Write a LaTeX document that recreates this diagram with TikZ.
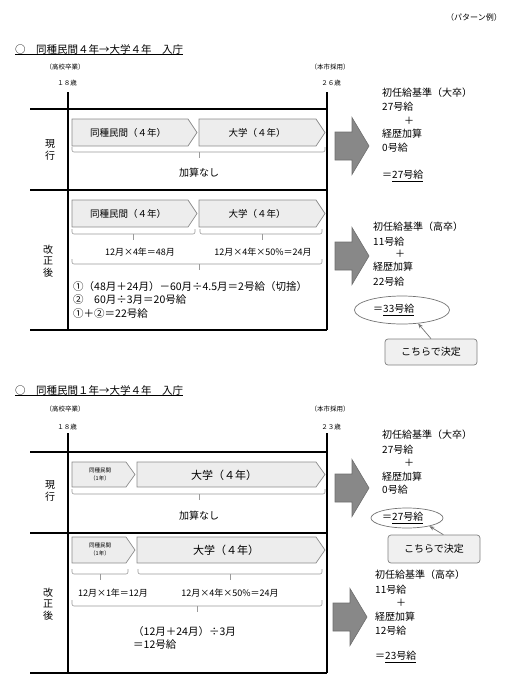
\documentclass[tikz,border=0pt]{standalone}
\usepackage{fontspec}
\setmainfont{Noto Sans CJK JP}
\usetikzlibrary{arrows.meta,shapes.geometric}
\definecolor{chevfill}{HTML}{EDEDED}
\definecolor{chevdraw}{HTML}{8C8C8C}
\definecolor{arrfill}{HTML}{888888}
\definecolor{arrdraw}{HTML}{6E6E6E}
\definecolor{brk}{HTML}{9A9A9A}
% chevron: x left, x tip, y top, y bottom
\newcommand{\chevpath}[4]{\path[chev] (#1,#3) -- ({#2-9},#3) -- (#2,{(#3+#4)/2}) -- ({#2-9},#4) -- (#1,#4) -- cycle;}
% bracket: x1, x2, y top, y bottom, x tick
\newcommand{\bracketpath}[5]{\draw[brkline] (#1,#3) -- (#1,#4) -- (#2,#4) -- (#2,#3); \draw[brkline] (#5,#4) -- (#5,{#4+6});}
% big arrow: x left, y centre
\newcommand{\bigarrowpath}[2]{\path[barrow] (#1,{#2-14}) -- ({#1+17},{#2-14}) -- ({#1+17},{#2-28.5}) -- ({#1+34},#2) -- ({#1+17},{#2+28.5}) -- ({#1+17},{#2+14}) -- (#1,{#2+14}) -- cycle;}
\begin{document}
\begin{tikzpicture}[x=1pt,y=-1pt,
 frame/.style={line width=1.4pt},
 chev/.style={fill=chevfill,draw=chevdraw,line width=0.7pt},
 brkline/.style={draw=brk,line width=0.6pt,rounded corners=2pt},
 barrow/.style={fill=arrfill,draw=arrdraw,line width=0.6pt},
 ct/.style={inner sep=0,font=\fontsize{9.5}{11}\selectfont},
 bigct/.style={inner sep=0,font=\fontsize{11}{13}\selectfont},
 tinyct/.style={inner sep=0,font=\fontsize{5.5}{7.5}\selectfont,align=center},
 lab/.style={inner sep=0,font=\fontsize{6.5}{7.5}\selectfont},
 mid/.style={inner sep=0,font=\fontsize{9}{11}\selectfont},
 ft/.style={anchor=west,inner sep=0,font=\fontsize{10.5}{12}\selectfont},
 rt/.style={anchor=west,inner sep=0,font=\fontsize{10}{12}\selectfont},
 vt/.style={inner sep=0,align=center,font=\fontsize{10}{11.5}\selectfont},
 ttl/.style={anchor=west,inner sep=0,font=\fontsize{10.5}{12}\selectfont},
 uline/.style={line width=0.6pt},
 ell/.style={ellipse,draw=black!55,line width=0.7pt,inner sep=0},
 callbox/.style={draw=black!50,fill=black!6,rounded corners=3pt,line width=0.7pt,minimum width=92pt,inner sep=0,font=\fontsize{10}{12}\selectfont},
 callline/.style={draw=black!55,line width=0.7pt,-{Stealth[length=5pt,width=4pt]}}
]
\useasboundingbox (0,0) rectangle (510,696);

\node[anchor=east,inner sep=0,font=\fontsize{8}{10}\selectfont] (pat) at (502,17) {（パターン例）};

%================ PART 1 ================
\node[ttl] (t1) at (15,49) {○　同種民間４年→大学４年　入庁};
\draw[uline] (t1.south west) -- (t1.south east);
\node[lab] (a1) at (65,67) {（高校卒業）};
\node[lab] (b1) at (330,67) {（本市採用）};
\node[lab] (a1y) at (67,83) {１８歳};
\node[lab] (b1y) at (331,83) {２６歳};

\draw[frame] (68,92) -- (68,330);
\draw[frame] (327,92) -- (327,330);
\draw[frame] (30,109) -- (327,109);
\draw[frame] (30,190) -- (327,190);
\draw[frame] (30,330) -- (327,330);

\node[vt] (g1) at (50,150) {現\\行};
\node[vt] (k1) at (48,261) {改\\正\\後};

% row 1
\chevpath{72}{197}{119}{146}
\chevpath{199}{325}{119}{146}
\node[ct] (c1a) at (128,133) {同種民間（４年）};
\node[ct] (c1b) at (257,133) {大学（４年）};
\bracketpath{72}{325}{147}{152}{199}
\node[ct,font=\fontsize{10}{12}\selectfont] (n1) at (199,173) {加算なし};

% row 2
\chevpath{72}{197}{200}{227}
\chevpath{199}{325}{200}{227}
\node[ct] (c2a) at (128,214) {同種民間（４年）};
\node[ct] (c2b) at (257,214) {大学（４年）};
\bracketpath{72}{195}{229}{234}{133}
\bracketpath{200}{322}{229}{234}{262}
\node[mid] (m1) at (140,252) {12月×4年＝48月};
\node[mid] (m2) at (263,252) {12月×4年×50\%＝24月};
\bracketpath{72}{322}{259}{264}{199}
\node[ft] (f1) at (73,287) {①（48月＋24月）－60月÷4.5月＝2号給（切捨）};
\node[ft] (f2) at (73,300) {②　60月÷3月＝20号給};
\node[ft] (f3) at (73,314) {①＋②＝22号給};

% right side
\bigarrowpath{335}{146}
\node[rt] (r1) at (382,93) {初任給基準（大卒）};
\node[rt] (r2) at (382,107) {27号給};
\node[rt] (r3) at (404,121) {＋};
\node[rt] (r4) at (382,134) {経歴加算};
\node[rt] (r5) at (382,148) {0号給};
\node[rt] (r6) at (382,176) {＝\underline{27号給}};

\bigarrowpath{335}{256}
\node[rt] (s1) at (373,227) {初任給基準（高卒）};
\node[rt] (s2) at (373,242) {11号給};
\node[rt] (s3) at (395,254) {＋};
\node[rt] (s4) at (373,267) {経歴加算};
\node[rt] (s5) at (373,282) {22号給};
\node[rt] (s6) at (373,310) {＝\underline{33号給}};
\node[ell,minimum width=95pt,minimum height=28pt] (e1) at (402,310) {};
\node[callbox,minimum height=26pt] (box1) at (431,352) {こちらで決定};
\draw[callline] (box1.north) -- (e1.-40);

%================ PART 2 ================
\node[ttl] (t2) at (15,390) {○　同種民間１年→大学４年　入庁};
\draw[uline] (t2.south west) -- (t2.south east);
\node[lab] (a2) at (65,409) {（高校卒業）};
\node[lab] (b2) at (330,409) {（本市採用）};
\node[lab] (a2y) at (67,427) {１８歳};
\node[lab] (b2y) at (331,427) {２３歳};

\draw[frame] (68,433) -- (68,673);
\draw[frame] (327,433) -- (327,673);
\draw[frame] (30,452) -- (327,452);
\draw[frame] (30,533) -- (327,533);
\draw[frame] (30,673) -- (327,673);

\node[vt] (g2) at (50,491) {現\\行};
\node[vt] (k2) at (48,604) {改\\正\\後};

% row 1
\chevpath{72}{135}{462}{487}
\chevpath{137}{325}{462}{487}
\node[tinyct] (d1a) at (100,474.5) {同種民間\\（1年）};
\node[bigct] (d1b) at (224,475) {大学（４年）};
\bracketpath{72}{325}{489}{494}{199}
\node[ct,font=\fontsize{10}{12}\selectfont] (n2) at (199,516) {加算なし};

% row 2
\chevpath{72}{135}{537}{563}
\chevpath{137}{325}{537}{563}
\node[tinyct] (d2a) at (100,549.5) {同種民間\\（1年）};
\node[bigct] (d2b) at (226,550) {大学（４年）};
\bracketpath{72}{128}{569}{574}{100}
\bracketpath{138}{322}{569}{574}{230}
\node[mid] (p1) at (113,593) {12月×1年＝12月};
\node[mid] (p2) at (230,593) {12月×4年×50\%＝24月};
\bracketpath{72}{322}{600}{606}{197}
\node[ft] (h1) at (133,632) {（12月＋24月）÷3月};
\node[ft] (h2) at (133,645) {＝12号給};

% right side
\bigarrowpath{335}{488}
\node[rt] (u1) at (382,435) {初任給基準（大卒）};
\node[rt] (u2) at (382,450) {27号給};
\node[rt] (u3) at (404,463) {＋};
\node[rt] (u4) at (382,477) {経歴加算};
\node[rt] (u5) at (382,490) {0号給};
\node[rt] (u6) at (382,518) {＝\underline{27号給}};
\node[ell,minimum width=72pt,minimum height=20pt] (e2) at (407,518) {};
\node[callbox,minimum height=28pt] (box2) at (434,549) {こちらで決定};
\draw[callline] (box2.57) -- (e2.-20);

\bigarrowpath{333}{617}
\node[rt] (v1) at (375,575) {初任給基準（高卒）};
\node[rt] (v2) at (375,590) {11号給};
\node[rt] (v3) at (396,603) {＋};
\node[rt] (v4) at (375,617) {経歴加算};
\node[rt] (v5) at (375,631) {12号給};
\node[rt] (v6) at (375,657) {＝\underline{23号給}};
\end{tikzpicture}
\end{document}
